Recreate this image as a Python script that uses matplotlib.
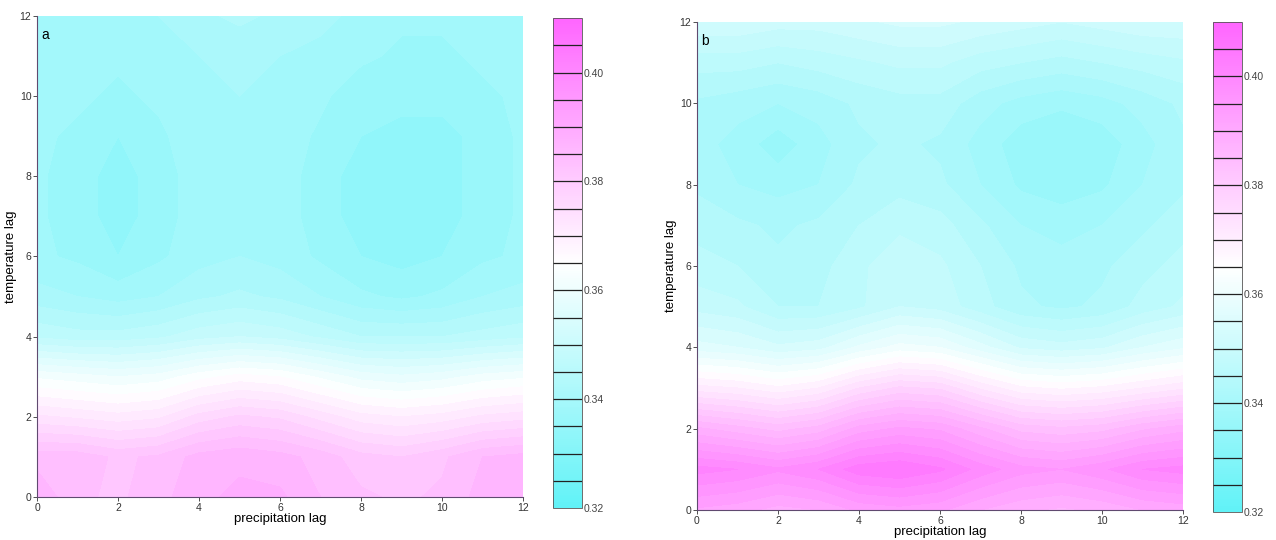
import numpy as np
import matplotlib
matplotlib.use("Agg")
import matplotlib.pyplot as plt
from matplotlib.colors import LinearSegmentedColormap, Normalize
from matplotlib.cm import ScalarMappable

plt.rcParams['font.family'] = ['Liberation Sans', 'DejaVu Sans']

precip_lag = list(range(13))
temp_lag = list(range(13))

# panel a values, rows y=0..12, cols x=0..12
a_rows = [
    [0.387,0.383,0.382,0.384,0.387,0.388,0.388,0.385,0.383,0.382,0.383,0.386,0.387],
    [0.384,0.384,0.382,0.383,0.386,0.387,0.386,0.384,0.381,0.380,0.382,0.385,0.386],
    [0.373,0.372,0.371,0.372,0.376,0.378,0.377,0.374,0.371,0.370,0.371,0.373,0.374],
    [0.362,0.361,0.360,0.361,0.364,0.366,0.365,0.362,0.359,0.358,0.359,0.361,0.362],
    [0.347,0.346,0.346,0.347,0.349,0.350,0.349,0.347,0.345,0.345,0.345,0.346,0.347],
    [0.341,0.340,0.339,0.340,0.342,0.343,0.342,0.340,0.338,0.337,0.338,0.340,0.341],
    [0.338,0.337,0.335,0.337,0.339,0.340,0.339,0.337,0.335,0.334,0.335,0.337,0.338],
    [0.338,0.336,0.334,0.336,0.339,0.340,0.339,0.336,0.334,0.333,0.334,0.336,0.338],
    [0.338,0.336,0.334,0.336,0.339,0.340,0.339,0.336,0.334,0.333,0.334,0.336,0.338],
    [0.338,0.337,0.335,0.337,0.339,0.340,0.339,0.337,0.335,0.334,0.334,0.336,0.338],
    [0.338,0.338,0.337,0.338,0.339,0.340,0.339,0.338,0.336,0.336,0.336,0.337,0.338],
    [0.338,0.338,0.338,0.339,0.340,0.341,0.340,0.339,0.338,0.337,0.337,0.338,0.339],
    [0.338,0.338,0.339,0.340,0.342,0.343,0.342,0.341,0.339,0.338,0.338,0.339,0.340],
]

# panel b values, rows y=0..12, cols x=0..12
b_rows = [
    [0.392,0.391,0.389,0.390,0.393,0.394,0.393,0.390,0.388,0.387,0.388,0.390,0.391],
    [0.401,0.400,0.398,0.400,0.404,0.405,0.403,0.399,0.396,0.395,0.397,0.400,0.401],
    [0.388,0.386,0.384,0.386,0.391,0.393,0.392,0.388,0.384,0.383,0.384,0.387,0.389],
    [0.371,0.370,0.368,0.370,0.375,0.378,0.377,0.372,0.368,0.367,0.368,0.370,0.372],
    [0.356,0.355,0.353,0.354,0.358,0.361,0.360,0.356,0.352,0.351,0.352,0.355,0.357],
    [0.349,0.348,0.345,0.345,0.347,0.350,0.349,0.346,0.343,0.342,0.343,0.346,0.348],
    [0.346,0.345,0.343,0.344,0.347,0.349,0.348,0.345,0.342,0.341,0.342,0.344,0.346],
    [0.344,0.343,0.342,0.343,0.345,0.347,0.346,0.343,0.340,0.339,0.340,0.342,0.344],
    [0.342,0.340,0.339,0.340,0.343,0.344,0.343,0.340,0.337,0.336,0.337,0.340,0.342],
    [0.341,0.339,0.336,0.339,0.342,0.343,0.342,0.339,0.336,0.335,0.336,0.339,0.342],
    [0.342,0.341,0.340,0.341,0.343,0.344,0.344,0.341,0.339,0.338,0.339,0.341,0.343],
    [0.346,0.346,0.345,0.346,0.347,0.348,0.348,0.346,0.345,0.344,0.345,0.346,0.347],
    [0.352,0.352,0.351,0.351,0.352,0.353,0.353,0.352,0.351,0.350,0.351,0.352,0.352],
]

vmin, vmax = 0.32, 0.41
cb_ticks = [0.32, 0.34, 0.36, 0.38, 0.40]

cmap = LinearSegmentedColormap.from_list(
    "cw_m", [(0.0, (0.38, 0.95, 0.97)), (0.5, (1.0, 1.0, 1.0)), (1.0, (1.0, 0.40, 1.0))])
norm = Normalize(vmin=vmin, vmax=vmax)
fill_levels = np.linspace(vmin, vmax, 37)
band_lines = np.linspace(vmin, vmax, 19)

fig = plt.figure(figsize=(12.76, 5.40), dpi=100)

panels = [
    ("a", a_rows, [0.029, 0.0796, 0.381, 0.891], [0.4334, 0.0593, 0.0227, 0.907]),
    ("b", b_rows, [0.5462, 0.0556, 0.381, 0.9037], [0.9506, 0.0519, 0.0227, 0.9074]),
]

for label, rows, axpos, cbpos in panels:
    ax = fig.add_axes(axpos)
    X, Y = np.meshgrid(precip_lag, temp_lag)
    Z = np.array(rows)
    ax.contourf(X, Y, Z, levels=fill_levels, cmap=cmap, norm=norm, extend='both')
    ax.set_xlim(0, 12)
    ax.set_ylim(0, 12)
    ax.set_xticks(range(0, 13, 2))
    ax.set_yticks(range(0, 13, 2))
    ax.tick_params(labelsize=7.5, length=3, width=0.6, colors='#333333', pad=1)
    for s in ['top', 'right']:
        ax.spines[s].set_visible(False)
    for s in ['bottom', 'left']:
        ax.spines[s].set_linewidth(0.8)
        ax.spines[s].set_color('#604a70')
    ax.set_xlabel("precipitation lag", fontsize=9.5, labelpad=0)
    ax.set_ylabel("temperature lag", fontsize=9.5, labelpad=2)
    ax.text(0.008, 0.975, label, transform=ax.transAxes, va='top', ha='left', fontsize=10)

    cax = fig.add_axes(cbpos)
    cb = fig.colorbar(ScalarMappable(norm=norm, cmap=cmap), cax=cax)
    cb.outline.set_linewidth(0.6)
    cb.outline.set_edgecolor('#555555')
    for lv in band_lines[1:-1]:
        cax.axhline(lv, color='#222222', lw=0.9)
    cb.set_ticks(cb_ticks)
    cb.set_ticklabels([f"{t:.2f}" for t in cb_ticks])
    cax.tick_params(labelsize=7.5, length=0, colors='#444444', pad=1)

fig.savefig("out.png", dpi=100)
